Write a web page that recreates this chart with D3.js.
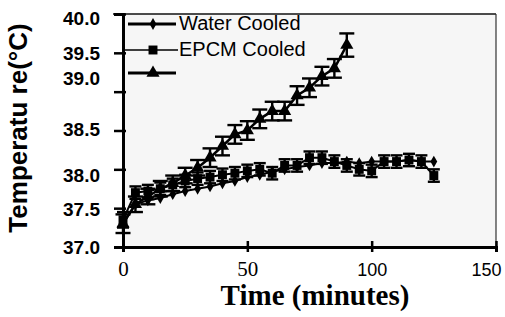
<!DOCTYPE html>
<html>
<head>
<meta charset="utf-8">
<script src="https://cdn.jsdelivr.net/npm/d3@7"></script>
<style>
body { margin: 0; background: #fff; }
svg { display: block; }
</style>
</head>
<body>
<svg id="chart" width="505" height="317"></svg>
<script>
// time in minutes, temperature in degC
var times = [0, 5, 10, 15, 20, 25, 30, 35, 40, 45, 50, 55, 60, 65, 70, 75, 80, 85, 90, 95, 100, 105, 110, 115, 120, 125];
var waterCooled = [37.3, 37.55, 37.6, 37.63, 37.68, 37.72, 37.75, 37.78, 37.82, 37.85, 37.9, 37.93, 37.97, 38.0, 38.03, 38.05, 38.08, 38.08, 38.1, 38.08, 38.1, 38.1, 38.1, 38.12, 38.1, 38.1];
var epcmCooled = [37.35, 37.7, 37.72, 37.75, 37.8, 37.85, 37.88, 37.9, 37.93, 37.95, 37.98, 38.0, 37.95, 38.05, 38.05, 38.15, 38.15, 38.1, 38.05, 38.0, 37.98, 38.1, 38.1, 38.12, 38.1, 37.92];
var epcmErr = [0.1, 0.08, 0.08, 0.08, 0.08, 0.08, 0.08, 0.08, 0.08, 0.08, 0.08, 0.08, 0.08, 0.08, 0.08, 0.08, 0.08, 0.08, 0.08, 0.08, 0.08, 0.08, 0.08, 0.08, 0.08, 0.08];
var noCoolTimes = [0, 5, 10, 15, 20, 25, 30, 35, 40, 45, 50, 55, 60, 65, 70, 75, 80, 85, 90];
var noCooling = [37.3, 37.55, 37.65, 37.75, 37.82, 37.92, 38.02, 38.15, 38.3, 38.45, 38.5, 38.65, 38.75, 38.75, 38.95, 39.05, 39.2, 39.3, 39.6];
var noCoolErr = [0.12, 0.1, 0.1, 0.1, 0.1, 0.1, 0.1, 0.12, 0.12, 0.12, 0.12, 0.12, 0.12, 0.12, 0.12, 0.12, 0.12, 0.12, 0.15];

var xTicks = [0, 50, 100, 150];
var yTicks = [37.0, 37.5, 38.0, 38.5, 39.0, 39.5, 40.0];
var legendLabels = ['Water Cooled', 'EPCM Cooled', ''];

var svg = d3.select('#chart');
var pLeft = 123, pRight = 496, pTop = 14, pBottom = 247;

var x = d3.scaleLinear().domain([0, 150]).range([pLeft, pRight]);
var y = d3.scaleLinear().domain([37, 40]).range([pBottom, pTop]);

svg.append('rect').attr('x', pLeft).attr('y', pTop)
	.attr('width', pRight - pLeft).attr('height', pBottom - pTop)
	.attr('fill', '#f6f6f6');

// frame top / right
svg.append('line').attr('x1', pLeft - 10).attr('x2', pRight).attr('y1', pTop).attr('y2', pTop)
	.attr('stroke', '#111').attr('stroke-width', 1.5);
svg.append('line').attr('x1', pRight).attr('x2', pRight).attr('y1', pTop).attr('y2', pBottom)
	.attr('stroke', '#333').attr('stroke-width', 1.2);

///Series
var line = d3.line()
	.x(function (d) { return x(d[0]); })
	.y(function (d) { return y(d[1]); });

function pairs(ts, vs) {
	return ts.map(function (t, i) { return [t, vs[i]]; });
}

function drawErrors(ts, vs, es, capW) {
	var g = svg.append('g').attr('stroke', '#000').attr('stroke-width', 2.4);
	ts.forEach(function (t, i) {
		g.append('line').attr('x1', x(t)).attr('x2', x(t))
			.attr('y1', y(vs[i] - es[i])).attr('y2', y(vs[i] + es[i]));
		g.append('line').attr('x1', x(t) - capW / 2).attr('x2', x(t) + capW / 2)
			.attr('y1', y(vs[i] + es[i])).attr('y2', y(vs[i] + es[i]));
		g.append('line').attr('x1', x(t) - capW / 2).attr('x2', x(t) + capW / 2)
			.attr('y1', y(vs[i] - es[i])).attr('y2', y(vs[i] - es[i]));
	});
}

drawErrors(times, epcmCooled, epcmErr, 12);
drawErrors(noCoolTimes, noCooling, noCoolErr, 15);

svg.append('path').datum(pairs(times, waterCooled)).attr('d', line)
	.attr('fill', 'none').attr('stroke', '#000').attr('stroke-width', 2);
svg.append('path').datum(pairs(times, epcmCooled)).attr('d', line)
	.attr('fill', 'none').attr('stroke', '#000').attr('stroke-width', 2);
svg.append('path').datum(pairs(noCoolTimes, noCooling)).attr('d', line)
	.attr('fill', 'none').attr('stroke', '#000').attr('stroke-width', 2.5);

var diamond = d3.symbol().type(d3.symbolDiamond).size(40);
var square = d3.symbol().type(d3.symbolSquare).size(80);
var triangle = d3.symbol().type(d3.symbolTriangle).size(75);

svg.append('g').selectAll('path').data(pairs(times, waterCooled)).enter()
	.append('path').attr('d', diamond).attr('fill', '#000')
	.attr('transform', function (d) { return 'translate(' + [x(d[0]), y(d[1])] + ')'; });
svg.append('g').selectAll('path').data(pairs(times, epcmCooled)).enter()
	.append('path').attr('d', square).attr('fill', '#000')
	.attr('transform', function (d) { return 'translate(' + [x(d[0]), y(d[1])] + ')'; });
svg.append('g').selectAll('path').data(pairs(noCoolTimes, noCooling)).enter()
	.append('path').attr('d', triangle).attr('fill', '#000')
	.attr('transform', function (d) { return 'translate(' + [x(d[0]), y(d[1])] + ')'; });

///Axes
// the scanned labels sit a little off their ticks
function yLabelShift(d) {
	if (d === 40.0) return 4;
	if (d === 39.0) return -14;
	if (d === 38.5) return -2;
	if (d === 38.0) return 5;
	return 0;
}
var yAxis = d3.axisLeft(y).tickValues(yTicks).tickSize(9).tickPadding(14)
	.tickFormat(d3.format('.1f'));
var gy = svg.append('g').attr('transform', 'translate(' + [pLeft, 0] + ')').call(yAxis);
gy.select('.domain').attr('stroke', '#000').attr('stroke-width', 3);
gy.selectAll('.tick line').attr('x1', 3).attr('stroke-width', 2.5);
gy.selectAll('.tick text')
	.attr('font-family', 'Liberation Sans, Arial, sans-serif')
	.attr('font-weight', 'bold').attr('font-size', 19).attr('fill', '#000')
	.attr('dy', '0.36em')
	.attr('y', yLabelShift);

var xAxis = d3.axisBottom(x).tickValues(xTicks).tickSize(5).tickPadding(11);
var gx = svg.append('g').attr('transform', 'translate(' + [0, pBottom] + ')').call(xAxis);
gx.select('.domain').attr('stroke', '#000').attr('stroke-width', 3);
gx.selectAll('.tick line').attr('y1', -6).attr('stroke-width', 2.5);
gx.selectAll('.tick text')
	.attr('fill', '#000')
	.attr('font-size', function (d, i) { return i < 2 ? 21 : 18; })
	.attr('font-family', function (d, i) {
		return i < 2 ? 'Liberation Serif, Times New Roman, serif' : 'Liberation Sans, Arial, sans-serif';
	})
	.attr('dy', function (d, i) { return i < 2 ? '0.62em' : '0.71em'; })
	.attr('dx', function (d, i) { return i === 3 ? -10 : 0; });

///Titles
svg.append('text').attr('x', 315).attr('y', 305).attr('text-anchor', 'middle')
	.attr('font-family', 'Liberation Serif, Times New Roman, serif')
	.attr('font-weight', 'bold').attr('font-size', 29).attr('fill', '#000')
	.text('Time (minutes)');

svg.append('text').attr('transform', 'translate(' + [27, 128] + ') rotate(-90)')
	.attr('text-anchor', 'middle')
	.attr('font-family', 'Liberation Sans, Arial, sans-serif')
	.attr('font-weight', 'bold').attr('font-size', 26).attr('fill', '#000')
	.text('Temperatu re(°C)');

///Legend
var legendY = [24, 50, 73];
var legendMarks = [diamond, square, triangle];
var legendLine = [[128, 176, 3], [122, 178, 1.5], [128, 176, 3]];
legendLabels.forEach(function (label, i) {
	svg.append('line').attr('x1', legendLine[i][0]).attr('x2', legendLine[i][1])
		.attr('y1', legendY[i]).attr('y2', legendY[i])
		.attr('stroke', '#000').attr('stroke-width', legendLine[i][2]);
	svg.append('path').attr('d', legendMarks[i]).attr('fill', '#000')
		.attr('transform', 'translate(' + [153, legendY[i]] + ')');
	svg.append('text').attr('x', 179).attr('y', legendY[i] + 6)
		.attr('font-family', 'Liberation Sans, Arial, sans-serif')
		.attr('font-size', 20).attr('fill', '#000')
		.text(label);
});
</script>
</body>
</html>
